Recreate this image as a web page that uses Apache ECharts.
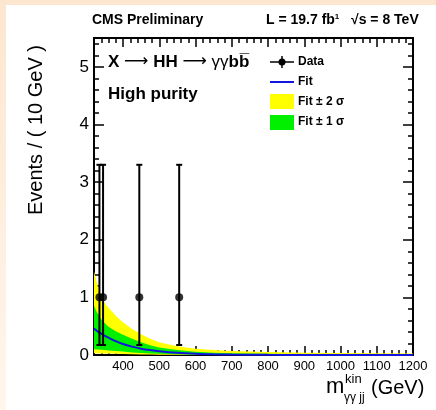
<!DOCTYPE html>
<html>
<head>
<meta charset="utf-8">
<script src="https://cdn.jsdelivr.net/npm/echarts@6/dist/echarts.min.js"></script>
<style>
  html, body { margin: 0; padding: 0; background: #fff; }
  #chart { width: 436px; height: 410px; }
</style>
</head>
<body>
<div id="chart"></div>
<script>
// data points (10 GeV bins)
var binCenters = [335, 345, 445, 555];
var binCounts = [1, 1, 1, 1];
var errLow = [0.173, 0.173, 0.173, 0.173];
var errHigh = [3.30, 3.30, 3.30, 3.30];

// fit curve and uncertainty bands
var fitMass = [320, 330, 340, 350, 360, 380, 400, 425, 450, 475, 500, 550, 600, 650, 700, 800, 900, 1000, 1100, 1200];
var fitValue = [0.46, 0.41, 0.37, 0.33, 0.30, 0.24, 0.19, 0.145, 0.11, 0.085, 0.065, 0.038, 0.022, 0.013, 0.008, 0.003, 0.0012, 0.0005, 0.0002, 0.0001];
var green1Low = [0.10, 0.095, 0.09, 0.085, 0.08, 0.07, 0.06, 0.045, 0.035, 0.027, 0.02, 0.011, 0.006, 0.003, 0.002, 0.001, 0, 0, 0, 0];
var green1High = [0.85, 0.72, 0.62, 0.55, 0.49, 0.41, 0.35, 0.28, 0.22, 0.17, 0.13, 0.085, 0.055, 0.04, 0.03, 0.02, 0.015, 0.012, 0.01, 0.008];
var yellow2Low = [0.03, 0.03, 0.028, 0.026, 0.024, 0.02, 0.016, 0.012, 0.009, 0.007, 0.005, 0.003, 0.001, 0, 0, 0, 0, 0, 0, 0];
var yellow2High = [1.45, 1.2, 1.02, 0.9, 0.82, 0.68, 0.57, 0.45, 0.36, 0.28, 0.22, 0.15, 0.11, 0.085, 0.07, 0.05, 0.04, 0.035, 0.03, 0.028];

// axis ticks
var xMajorTicks = [400, 500, 600, 700, 800, 900, 1000, 1100, 1200];
var yMajorTicks = [0, 1, 2, 3, 4, 5];
var xMin = 320, xMax = 1200, yMin = 0, yMax = 5.5;

var font = 'Liberation Sans, Arial, sans-serif';

var xMinorTicks = [];
for (var v = xMin; v <= xMax; v += 20) xMinorTicks.push(v);
var yMinorTicks = [];
for (var k = 0; k <= 27; k++) yMinorTicks.push(Math.round(k * 2) / 10);

function pairs(xs, ys) {
    return xs.map(function (x, i) { return [x, ys[i]]; });
}

// band drawn as one polygon: upper edge forward, lower edge back
function bandSeries(lo, hi, color) {
    return {
        type: 'custom',
        data: fitMass.map(function (x, i) { return [x, lo[i], hi[i]]; }),
        silent: true,
        renderItem: function (params, api) {
            if (params.dataIndex !== 0) return null;
            var up = [], down = [];
            for (var i = 0; i < fitMass.length; i++) {
                up.push(api.coord([fitMass[i], hi[i]]));
                down.push(api.coord([fitMass[i], lo[i]]));
            }
            return {
                type: 'polygon',
                shape: { points: up.concat(down.reverse()) },
                style: { fill: color }
            };
        }
    };
}

function makeX(pos, ticks, len, labels) {
    return {
        type: 'value', position: pos, min: xMin, max: xMax,
        axisLine: { show: true, onZero: false, lineStyle: { color: '#000', width: 2 } },
        axisTick: { show: true, inside: true, length: len, customValues: ticks, lineStyle: { color: '#000', width: 1.5 } },
        axisLabel: labels ? {
            show: true, customValues: xMajorTicks, color: '#000', fontSize: 13, fontFamily: font, margin: 5,
            formatter: function (val) { return String(val); }
        } : { show: false },
        splitLine: { show: false }
    };
}
function makeY(pos, ticks, len, labels) {
    return {
        type: 'value', position: pos, min: yMin, max: yMax,
        axisLine: { show: true, onZero: false, lineStyle: { color: '#000', width: 2 } },
        axisTick: { show: true, inside: true, length: len, customValues: ticks, lineStyle: { color: '#000', width: 1.5 } },
        axisLabel: labels ? { show: true, customValues: yMajorTicks, color: '#000', fontSize: 17, fontFamily: font, margin: 5 } : { show: false },
        splitLine: { show: false }
    };
}

var chart = echarts.init(document.getElementById('chart'));

var option = {
    backgroundColor: '#fff',
    animation: false,
    grid: { left: 94, right: 23, top: 38, bottom: 55 },
    xAxis: [
        makeX('bottom', xMajorTicks, 9, true),
        makeX('bottom', xMinorTicks, 5, false),
        makeX('top', xMajorTicks, 9, false),
        makeX('top', xMinorTicks, 5, false)
    ],
    yAxis: [
        makeY('left', yMajorTicks, 10, true),
        makeY('left', yMinorTicks, 5, false),
        makeY('right', yMajorTicks, 10, false),
        makeY('right', yMinorTicks, 5, false)
    ],
    series: [
        bandSeries(yellow2Low, yellow2High, '#ffff00'),
        bandSeries(green1Low, green1High, '#00f000'),
        {
            type: 'line', data: pairs(fitMass, fitValue),
            symbol: 'none', smooth: 0.3, lineStyle: { color: '#1414e0', width: 2 }, z: 3
        },
        {
            // error bars
            type: 'custom',
            data: binCenters.map(function (x, i) { return [x, errLow[i], errHigh[i]]; }),
            renderItem: function (params, api) {
                var lo = api.coord([api.value(0), api.value(1)]);
                var hi = api.coord([api.value(0), api.value(2)]);
                var st = { stroke: '#000', lineWidth: 2 };
                return {
                    type: 'group',
                    children: [
                        { type: 'line', shape: { x1: lo[0], y1: lo[1], x2: hi[0], y2: hi[1] }, style: st },
                        { type: 'line', shape: { x1: lo[0] - 3, y1: lo[1], x2: lo[0] + 3, y2: lo[1] }, style: st },
                        { type: 'line', shape: { x1: hi[0] - 3, y1: hi[1], x2: hi[0] + 3, y2: hi[1] }, style: st }
                    ]
                };
            },
            z: 5
        },
        {
            type: 'scatter', data: pairs(binCenters, binCounts),
            symbol: 'circle', symbolSize: 8, itemStyle: { color: '#000' }, z: 6
        }
    ],
    graphic: [
        // peach frame strips
        { type: 'rect', shape: { x: 0, y: 0, width: 436, height: 5 }, style: { fill: '#fde6d0' } },
        {
            type: 'rect', shape: { x: 0, y: 0, width: 6, height: 410 },
            style: {
                fill: new echarts.graphic.LinearGradient(0, 0, 0, 1, [
                    { offset: 0, color: '#fde6d0' },
                    { offset: 1, color: '#fff6ec' }
                ])
            }
        },
        // header
        { type: 'text', x: 92, y: 20, style: { text: 'CMS Preliminary', font: 'bold 14px ' + font, fill: '#000', verticalAlign: 'middle' } },
        {
            type: 'text', x: 266, y: 20,
            style: {
                text: '{t|L = 19.7 fb}{s|1}{t|   \u221As = 8 TeV}',
                verticalAlign: 'middle',
                rich: {
                    t: { font: 'bold 14px ' + font, fill: '#000' },
                    s: { font: 'bold 8px ' + font, fill: '#000', verticalAlign: 'top', padding: [0, 0, 6, 0] }
                }
            }
        },
        // plot labels
        {
            type: 'text', x: 108, y: 62,
            style: {
                text: '{b|X }{a|\u27F6}{b| HH }{a|\u27F6}{g| \u03B3\u03B3}{b|bb\u0305}',
                verticalAlign: 'middle',
                rich: {
                    b: { font: 'bold 17px ' + font, fill: '#000' },
                    a: { font: '17px DejaVu Sans, sans-serif', fill: '#000' },
                    g: { font: '17px ' + font, fill: '#000' }
                }
            }
        },
        { type: 'text', x: 108, y: 94, style: { text: 'High purity', font: 'bold 17px ' + font, fill: '#000', verticalAlign: 'middle' } },
        // legend
        { type: 'line', shape: { x1: 270, y1: 62, x2: 294, y2: 62 }, style: { stroke: '#000', lineWidth: 1.5 } },
        { type: 'line', shape: { x1: 282, y1: 56, x2: 282, y2: 68 }, style: { stroke: '#000', lineWidth: 1.5 } },
        { type: 'circle', shape: { cx: 282, cy: 62, r: 3.5 }, style: { fill: '#000' } },
        { type: 'text', x: 298, y: 62, style: { text: 'Data', font: 'bold 12px ' + font, fill: '#000', verticalAlign: 'middle' } },
        { type: 'line', shape: { x1: 270, y1: 82, x2: 294, y2: 82 }, style: { stroke: '#1414e0', lineWidth: 2 } },
        { type: 'text', x: 298, y: 82, style: { text: 'Fit', font: 'bold 12px ' + font, fill: '#000', verticalAlign: 'middle' } },
        { type: 'rect', shape: { x: 270, y: 94, width: 24, height: 15 }, style: { fill: '#ffff00' } },
        { type: 'text', x: 298, y: 102, style: { text: 'Fit \u00B1 2 \u03C3', font: 'bold 12px ' + font, fill: '#000', verticalAlign: 'middle' } },
        { type: 'rect', shape: { x: 270, y: 115, width: 24, height: 15 }, style: { fill: '#00f000' } },
        { type: 'text', x: 298, y: 122, style: { text: 'Fit \u00B1 1 \u03C3', font: 'bold 12px ' + font, fill: '#000', verticalAlign: 'middle' } },
        // axis titles
        {
            type: 'text', x: 36, y: 130, rotation: Math.PI / 2,
            style: { text: 'Events / ( 10 GeV )', font: '20px ' + font, fill: '#000', align: 'center', verticalAlign: 'middle' }
        },
        { type: 'text', x: 326, y: 398, style: { text: 'm', font: '22px ' + font, fill: '#000', verticalAlign: 'bottom' } },
        { type: 'text', x: 345, y: 386, style: { text: 'kin', font: '13px ' + font, fill: '#000', verticalAlign: 'bottom' } },
        { type: 'text', x: 344, y: 404, style: { text: '\u03B3\u03B3 jj', font: '12px ' + font, fill: '#000', verticalAlign: 'bottom' } },
        { type: 'text', x: 371, y: 398, style: { text: '(GeV)', font: '20px ' + font, fill: '#000', verticalAlign: 'bottom' } }
    ]
};

chart.setOption(option);
</script>
</body>
</html>
